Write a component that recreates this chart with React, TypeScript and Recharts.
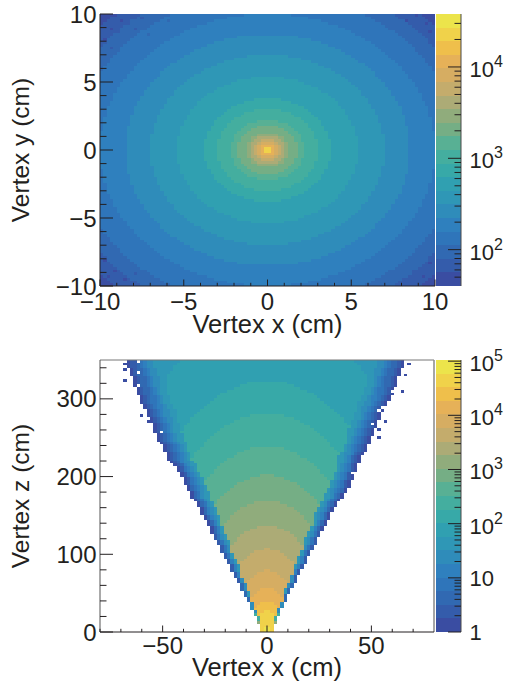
import React from 'react';
import { ScatterChart, Scatter, XAxis, YAxis, ReferenceLine } from 'recharts';

const FONT = '"Liberation Sans", Arial, sans-serif';
const INK = '#231f20';

// colour levels of the palette, top band first
const PALETTE = [
  '#ece44b', '#f0d24a', '#efbf4b', '#e6b158', '#d6ad62', '#c4ac6c', '#acab76', '#90ac7c', '#75ae85', '#58b094',
  '#44ae9f', '#37a9a8', '#30a0b1', '#2f97b6', '#2f8cba', '#2f80be', '#2f75ba', '#3169b2', '#345cab', '#3a4da2',
];

// top panel: level as a function of the distance from the beam spot (cm)
const topRingRadius = [0.2, 0.3, 0.45, 0.6, 0.8, 1.05, 1.3, 1.8, 2.2, 3, 3.8, 5.4, 7, 8.5, 10, 11.5, 12.5, 13.5, 99];
const topRingLevel = [1, 2, 3, 4, 5, 6, 7, 8, 9, 10, 11, 12, 13, 14, 15, 16, 17, 18, 19];
const topDarkCells = [
  [-49, 47], [-48, 48], [-46, 49], [-44, 47], [-42, 46], [-47, 44], [-45, 43], [-40, 44], [-49, 40], [-47, 37],
  [-38, 48], [-30, 47], [-36, 42], [49, 48], [47, 46], [44, 49], [41, 47], [48, 43], [-48, -47], [-46, -45],
  [-43, -48], [-40, -46], [-49, -41], [46, -47], [43, -45], [48, -42], [40, -48],
];

// bottom panel: level against elliptical distance from the vertex (cm)
const bottomRingRadius = [9, 28, 40, 56, 79, 107, 137, 169, 202, 239, 281, 323, 400, 9999];
const bottomRingLevel = [0, 1, 2, 3, 4, 5, 6, 7, 8, 9, 10, 11, 12, 13];
// fall-off towards the wedge edge: fraction from the edge, level
const edgeFraction = [0.03, 0.06, 0.09, 0.12, 0.15, 0.19, 0.24];
const edgeLevel = [19, 18, 17, 16, 15, 14, 13];
// near the apex the edge never gets as dark: below this row, at most this level
const edgeCapRow = [3, 6, 10, 15, 100];
const edgeCapLevel = [7, 10, 14, 17, 19];

// wedge half widths in bins, one value per z row
const wedgeLeft = [
  2, 2, 2, 3, 3, 3, 4, 4, 5, 5, 5, 6, 6, 7, 7, 8, 8, 8, 9, 9,
  10, 10, 11, 11, 11, 12, 12, 13, 13, 14, 14, 14, 15, 15, 16, 16, 17, 17, 17, 18,
  18, 19, 19, 20, 20, 20, 21, 21, 22, 23, 23, 23, 24, 24, 25, 25, 25, 26, 26, 27,
  27, 28, 29, 30, 30, 30, 31, 31, 31, 32, 33, 33, 33, 34, 34, 34, 34, 35, 35, 36,
  36, 36, 37, 37, 38, 38, 38, 39, 39, 39, 40, 40, 40, 40, 41, 41, 41, 42, 42, 42,
];
const wedgeRight = [
  2, 2, 2, 3, 3, 3, 4, 4, 4, 5, 5, 6, 6, 6, 7, 7, 8, 8, 9, 9,
  9, 10, 10, 11, 11, 12, 12, 12, 13, 13, 14, 14, 15, 15, 15, 16, 16, 17, 17, 18,
  18, 19, 19, 19, 20, 20, 21, 21, 22, 23, 23, 24, 24, 25, 25, 25, 26, 26, 26, 27,
  27, 27, 28, 28, 28, 29, 30, 30, 30, 31, 31, 31, 32, 32, 32, 33, 33, 33, 34, 34,
  34, 35, 35, 36, 36, 37, 37, 38, 38, 38, 39, 39, 39, 39, 40, 40, 40, 41, 41, 41,
];
const strayCells = [
  [-43, 98], [-43, 96], [-43, 92], [-38, 79], [-36, 77], [42, 98], [41, 94], [40, 88], [35, 77], [33, 74], [33, 71],
];
const holeCells = [[25, 58], [31, 76], [33, 81], [34, 82], [37, 88], [-39, 99], [-39, 95], [-39, 90], [-32, 73]];

const topXTicks = [-10, -9, -8, -7, -6, -5, -4, -3, -2, -1, 0, 1, 2, 3, 4, 5, 6, 7, 8, 9, 10];
const topXMajor = [-10, -5, 0, 5, 10];
const bottomXTicks = [-80, -70, -60, -50, -40, -30, -20, -10, 0, 10, 20, 30, 40, 50, 60, 70];
const bottomXMajor = [-50, 0, 50];
const bottomYTicks = [0, 20, 40, 60, 80, 100, 120, 140, 160, 180, 200, 220, 240, 260, 280, 300, 320, 340];
const bottomYMajor = [0, 100, 200, 300];

const topBarTicks = [
  50, 60, 70, 80, 90, 100, 200, 300, 400, 500, 600, 700, 800, 900, 1000, 2000, 3000, 4000, 5000, 6000, 7000, 8000, 9000,
  10000, 20000, 30000,
];
const topBarMajor = [100, 1000, 10000];
const bottomBarTicks = [
  1, 2, 3, 4, 5, 6, 7, 8, 9, 10, 20, 30, 40, 50, 60, 70, 80, 90, 100, 200, 300, 400, 500, 600, 700, 800, 900, 1000,
  2000, 3000, 4000, 5000, 6000, 7000, 8000, 9000, 10000, 20000, 30000, 40000, 50000, 60000, 70000, 80000, 90000, 100000,
];
const bottomBarMajor = [1, 10, 100, 1000, 10000, 100000];

const lookup = (table: number[], levels: number[], r: number) => {
  const k = table.findIndex((t) => r <= t);
  return levels[k < 0 ? levels.length - 1 : k];
};

const buildTop = () => {
  const cells: { x: number; y: number; level: number }[] = [];
  for (let j = -50; j < 50; j++) {
    for (let i = -50; i < 50; i++) {
      const x = (i + 0.5) * 0.2;
      const y = (j + 0.5) * 0.2;
      let level = lookup(topRingRadius, topRingLevel, Math.hypot(x, y));
      if (topDarkCells.some((c) => c[0] === i && c[1] === j)) level = Math.min(19, level + 1);
      cells.push({ x, y, level });
    }
  }
  return cells;
};

const buildBottom = () => {
  const cells: { x: number; y: number; level: number }[] = [];
  for (let r = 0; r < 100; r++) {
    const z = (r + 0.5) * 3.5;
    const cap = lookup(edgeCapRow, edgeCapLevel, r);
    for (let i = -50; i < 50; i++) {
      const c = i + 0.5;
      const half = c < 0 ? wedgeLeft[r] : wedgeRight[r];
      const isStray = strayCells.some((s) => s[0] === i && s[1] === r);
      if (holeCells.some((s) => s[0] === i && s[1] === r)) continue;
      if (Math.abs(c) > half && !isStray) continue;
      const x = c * 1.6;
      let level = lookup(bottomRingRadius, bottomRingLevel, Math.hypot(z, x * 4.7));
      const fromEdge = (half - Math.abs(c)) / half;
      const k = edgeFraction.findIndex((f) => fromEdge <= f);
      if (k >= 0) level = Math.max(level, Math.min(edgeLevel[k], cap));
      if (isStray) level = 19;
      cells.push({ x, y: z, level });
    }
  }
  return cells;
};

const topCells = buildTop();
const bottomCells = buildBottom();

const topBarLow = 40;
const topBarHigh = 38000;
const bottomBarLow = 1;
const bottomBarHigh = 105000;
const barCells = (low: number, high: number) =>
  PALETTE.map((_, level) => ({
    x: 0.5,
    y: low * Math.pow(high / low, (19.5 - level) / 20),
    level,
  }));

// one histogram bin, snapped to whole pixels so neighbours leave no seams
const snap = (v: number) => Math.round(v + 0.001);
const binShape = (w: number, h: number) => (props: any) => {
  const { cx, cy, payload } = props;
  const x0 = snap(cx - w / 2);
  const x1 = snap(cx + w / 2);
  const y0 = snap(cy - h / 2);
  const y1 = snap(cy + h / 2);
  return <rect x={x0} y={y0} width={x1 - x0} height={y1 - y0} fill={PALETTE[payload.level]} />;
};

const xTick = (major: number[], baseline: number) => (props: any) => {
  const { x, y, payload } = props;
  const isMajor = major.includes(payload.value);
  return (
    <g>
      <line x1={x} x2={x} y1={y} y2={y - (isMajor ? 6.5 : 3.2)} stroke={INK} />
      {isMajor && (
        <text x={x} y={y + baseline} textAnchor="middle" fontFamily={FONT} fontSize={24} fill={INK}>
          {String(payload.value).replace('-', '\u2212')}
        </text>
      )}
    </g>
  );
};

const yTick = (major: number[]) => (props: any) => {
  const { x, y, payload } = props;
  const isMajor = major.includes(payload.value);
  return (
    <g>
      <line x1={x} x2={x + (isMajor ? 13 : 6.5)} y1={y} y2={y} stroke={INK} />
      {isMajor && (
        <text x={x - 3.5} y={y + 8.5} textAnchor="end" fontFamily={FONT} fontSize={24} fill={INK}>
          {String(payload.value).replace('-', '\u2212')}
        </text>
      )}
    </g>
  );
};

const barTick = (major: number[]) => (props: any) => {
  const { x, y, payload } = props;
  const v = payload.value;
  const isMajor = major.includes(v);
  const exponent = Math.round(Math.log10(v));
  return (
    <g>
      <line x1={x} x2={x - (isMajor ? 13 : 6.5)} y1={y} y2={y} stroke={INK} />
      {isMajor && (
        <text x={x + 8.5} y={y + (exponent > 1 ? 10 : 8)} fontFamily={FONT} fontSize={22} fill={INK}>
          {exponent === 0 ? '1' : '10'}
          {exponent > 1 && (
            <tspan dy={-10} fontSize={16}>
              {exponent}
            </tspan>
          )}
        </text>
      )}
    </g>
  );
};

const xTitleStyle = { fontFamily: FONT, fontSize: 25.5, fill: INK };
const yTitleStyle = { fontFamily: FONT, fontSize: 24.5, fill: INK };

const place = (left: number, top: number): React.CSSProperties => ({ position: 'absolute', left, top });

const ColorBar = ({ low, high, ticks, major, top }: any) => (
  <>
    <div style={place(436, top)}>
      <ScatterChart width={69} height={300} margin={{ top: 14, right: 44, bottom: 14, left: 0 }}>
        <XAxis type="number" dataKey="x" domain={[0, 1]} hide />
        <YAxis type="number" dataKey="y" scale="log" domain={[low, high]} allowDataOverflow hide />
        <Scatter data={barCells(low, high)} isAnimationActive={false} shape={binShape(25, 13.6)} />
      </ScatterChart>
    </div>
    {/* axis drawn in a chart of its own so its ticks lie over the bands */}
    <div style={place(436, top)}>
      <ScatterChart width={69} height={300} margin={{ top: 14, right: 0, bottom: 14, left: 0 }}>
        <XAxis type="number" dataKey="x" domain={[0, 1]} hide />
        <YAxis
          type="number"
          dataKey="y"
          orientation="right"
          scale="log"
          domain={[low, high]}
          allowDataOverflow
          width={44}
          ticks={ticks}
          interval={0}
          tickLine={false}
          tickSize={0}
          tickMargin={0}
          axisLine={{ stroke: '#4a4a4a' }}
          tick={barTick(major)}
        />
        <Scatter data={[]} isAnimationActive={false} />
      </ScatterChart>
    </div>
  </>
);

export default function App() {
  return (
    <div style={{ position: 'absolute', left: 0, top: 0, width: 505, height: 687, background: '#fff' }}>
      <div style={place(0, 0)}>
        <ScatterChart width={460} height={343} margin={{ top: 14, right: 25, bottom: 57, left: 100 }}>
          <XAxis type="number" dataKey="x" domain={[-10, 10]} hide />
          <YAxis type="number" dataKey="y" domain={[-10, 10]} hide />
          <Scatter data={topCells} isAnimationActive={false} shape={binShape(3.35, 2.72)} />
        </ScatterChart>
      </div>
      <div style={place(0, 0)}>
        <ScatterChart width={460} height={343} margin={{ top: 14, right: 25, bottom: 0, left: 0 }}>
          <XAxis
            type="number"
            dataKey="x"
            domain={[-10, 10]}
            allowDataOverflow
            ticks={topXTicks}
            interval={0}
            height={57}
            tickLine={false}
            tickSize={0}
            tickMargin={0}
            axisLine={{ stroke: INK }}
            tick={xTick(topXMajor, 23.5)}
            label={{ value: 'Vertex x (cm)', position: 'center', dy: 9.5, style: xTitleStyle }}
          />
          <YAxis
            type="number"
            dataKey="y"
            domain={[-10, 10]}
            allowDataOverflow
            ticks={topXTicks}
            interval={0}
            width={100}
            tickLine={false}
            tickSize={0}
            tickMargin={0}
            axisLine={{ stroke: INK }}
            tick={yTick(topXMajor)}
            label={{ value: 'Vertex y (cm)', position: 'center', angle: -90, dx: -30, style: yTitleStyle }}
          />
          <Scatter data={[]} isAnimationActive={false} />
        </ScatterChart>
      </div>
      <ColorBar low={topBarLow} high={topBarHigh} ticks={topBarTicks} major={topBarMajor} top={0} />

      <div style={place(0, 346)}>
        <ScatterChart width={460} height={341} margin={{ top: 14, right: 26, bottom: 55, left: 100 }}>
          <XAxis type="number" dataKey="x" domain={[-80, 80]} hide />
          <YAxis type="number" dataKey="y" domain={[0, 350]} hide />
          <Scatter data={bottomCells} isAnimationActive={false} shape={binShape(3.34, 2.72)} />
        </ScatterChart>
      </div>
      <div style={place(0, 346)}>
        <ScatterChart width={460} height={341} margin={{ top: 14, right: 26, bottom: 0, left: 0 }}>
          <ReferenceLine y={350} stroke="#777" />
          <ReferenceLine x={80} stroke="#888" strokeWidth={1.5} />
          <XAxis
            type="number"
            dataKey="x"
            domain={[-80, 80]}
            allowDataOverflow
            ticks={bottomXTicks}
            interval={0}
            height={55}
            tickLine={false}
            tickSize={0}
            tickMargin={0}
            axisLine={{ stroke: INK }}
            tick={xTick(bottomXMajor, 21.5)}
            label={{ value: 'Vertex x (cm)', position: 'center', dy: 7.5, style: xTitleStyle }}
          />
          <YAxis
            type="number"
            dataKey="y"
            domain={[0, 350]}
            allowDataOverflow
            ticks={bottomYTicks}
            interval={0}
            width={100}
            tickLine={false}
            tickSize={0}
            tickMargin={0}
            axisLine={{ stroke: '#555' }}
            tick={yTick(bottomYMajor)}
            label={{ value: 'Vertex z (cm)', position: 'center', angle: -90, dx: -30, style: yTitleStyle }}
          />
          <Scatter data={[]} isAnimationActive={false} />
        </ScatterChart>
      </div>
      <ColorBar low={bottomBarLow} high={bottomBarHigh} ticks={bottomBarTicks} major={bottomBarMajor} top={346} />
    </div>
  );
}
